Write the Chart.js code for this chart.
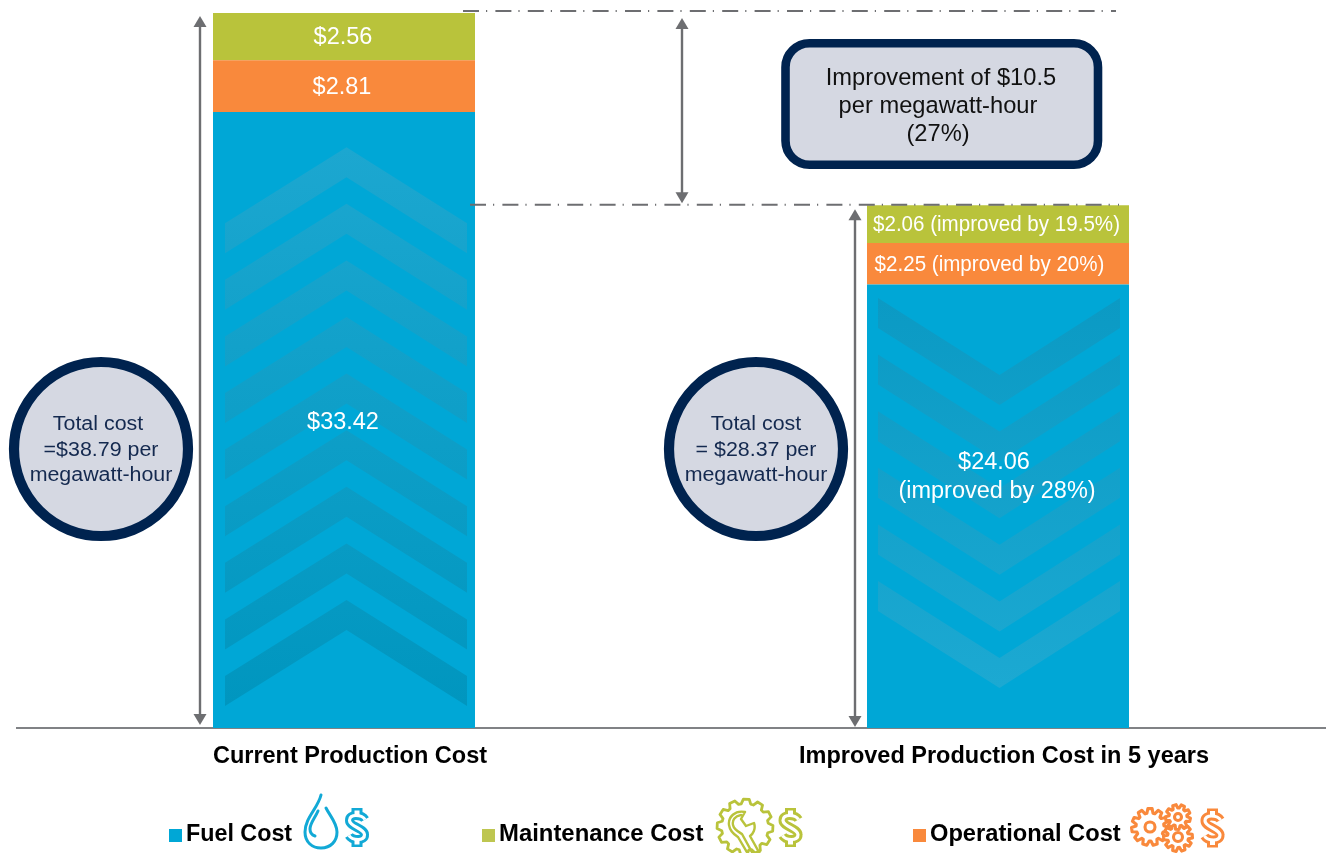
<!DOCTYPE html>
<html>
<head>
<meta charset="utf-8">
<style>html,body{margin:0;padding:0;background:#fff}canvas{display:block}</style>
<script src="https://cdn.jsdelivr.net/npm/chart.js@4"></script>
</head>
<body>
<canvas id="c" width="1330" height="853"></canvas>
<script>
const categories = ["Current Production Cost", "Improved Production Cost in 5 years"];
const fuelValues = [33.42, 24.06];
const operationalValues = [2.81, 2.25];
const maintenanceValues = [2.56, 2.06];
const totalValues = [38.79, 28.37];
const fuelLabels = [["$33.42"], ["$24.06", "(improved by 28%)"]];
const operationalLabels = [["$2.81"], ["$2.25 (improved by 20%)"]];
const maintenanceLabels = [["$2.56"], ["$2.06 (improved by 19.5%)"]];
const circleLabels = [["Total cost", "=$38.79 per", "megawatt-hour"], ["Total cost", "= $28.37 per", "megawatt-hour"]];
const boxLabel = ["Improvement of $10.5", "per megawatt-hour", "(27%)"];
const legendNames = ["Fuel Cost", "Maintenance Cost", "Operational Cost"];

const BLUE = "#00A7D6", ORANGE = "#F9893C", GREEN = "#B9C33B", GREY = "#6D6E71", NAVY = "#00234F", PALE = "#D5D8E2", INK = "#14294F";
const SANS = '"Liberation Sans", Arial, sans-serif';

function text(ctx, s, x, y, font, color, sx) {
  ctx.save();
  ctx.font = font; ctx.fillStyle = color;
  ctx.textAlign = "center"; ctx.textBaseline = "middle";
  ctx.translate(x, y); ctx.scale(sx || 1, 1);
  ctx.fillText(s, 0, 0);
  ctx.restore();
}
function chevron(ctx, x0, x1, yEdge, yApex, thick, fill) {
  const m = (x0 + x1) / 2 + 0.5;
  ctx.fillStyle = fill;
  ctx.beginPath();
  ctx.moveTo(x0, yEdge); ctx.lineTo(m, yApex); ctx.lineTo(x1, yEdge);
  ctx.lineTo(x1, yEdge + thick); ctx.lineTo(m, yApex + thick); ctx.lineTo(x0, yEdge + thick);
  ctx.closePath(); ctx.fill();
}
function dashLine(ctx, x0, x1, y) {
  ctx.save();
  ctx.strokeStyle = GREY; ctx.lineWidth = 2;
  ctx.setLineDash([16, 7, 1.2, 8.2]);
  ctx.beginPath(); ctx.moveTo(x0, y); ctx.lineTo(x1, y); ctx.stroke();
  ctx.restore();
}
function arrow(ctx, x, y0, y1) {
  ctx.save();
  ctx.strokeStyle = GREY; ctx.fillStyle = GREY; ctx.lineWidth = 2.4;
  ctx.beginPath(); ctx.moveTo(x, y0 + 8); ctx.lineTo(x, y1 - 8); ctx.stroke();
  [[y0, 1], [y1, -1]].forEach(([y, d]) => {
    ctx.beginPath(); ctx.moveTo(x, y); ctx.lineTo(x - 6.5, y + d * 11); ctx.lineTo(x + 6.5, y + d * 11); ctx.closePath(); ctx.fill();
  });
  ctx.restore();
}
function circleNote(ctx, cx, cy, lines, dx) {
  ctx.fillStyle = PALE; ctx.strokeStyle = NAVY; ctx.lineWidth = 10.2;
  ctx.beginPath(); ctx.arc(cx, cy, 87, 0, Math.PI * 2); ctx.fill(); ctx.stroke();
  const ys = [cy - 25, cy + 1, cy + 26];
  lines.forEach((l, i) => text(ctx, l, cx + dx[i], ys[i], "20px " + SANS, INK, 1.07));
}
function gear(ctx, cx, cy, rOut, rIn, hole, teeth, color, lw, rot) {
  ctx.save();
  ctx.strokeStyle = color; ctx.fillStyle = "#fff"; ctx.lineWidth = lw; ctx.lineJoin = "round";
  const st = Math.PI * 2 / teeth;
  ctx.beginPath();
  for (let i = 0; i < teeth; i++) {
    const a = (rot || 0) + i * st;
    [[-0.5, rIn], [-0.3, rOut], [0.1, rOut], [0.28, rIn]].forEach(([f, r], k) => {
      const b = a + f * st;
      const px = cx + r * Math.cos(b), py = cy + r * Math.sin(b);
      if (i === 0 && k === 0) ctx.moveTo(px, py); else ctx.lineTo(px, py);
    });
  }
  ctx.closePath(); ctx.fill(); ctx.stroke();
  if (hole) { ctx.beginPath(); ctx.arc(cx, cy, hole, 0, Math.PI * 2); ctx.stroke(); }
  ctx.restore();
}
function dollar(ctx, cx, cy, color) {
  ctx.save();
  ctx.lineCap = "butt"; ctx.lineJoin = "miter";
  const curve = () => {
    ctx.beginPath();
    ctx.moveTo(cx + 8, cy - 8);
    ctx.bezierCurveTo(cx + 5, cy - 13, cx - 8, cy - 14, cx - 7.5, cy - 7);
    ctx.bezierCurveTo(cx - 7.5, cy - 1, cx + 7.5, cy + 1, cx + 7.5, cy + 7);
    ctx.bezierCurveTo(cx + 8, cy + 14, cx - 5, cy + 13, cx - 8, cy + 8);
  };
  const stubs = () => {
    ctx.beginPath();
    ctx.moveTo(cx, cy - 13); ctx.lineTo(cx, cy - 19.5);
    ctx.moveTo(cx, cy + 13); ctx.lineTo(cx, cy + 19.5);
  };
  ctx.strokeStyle = color;
  ctx.lineWidth = 9; curve(); ctx.stroke();
  ctx.lineWidth = 11; stubs(); ctx.stroke();
  ctx.strokeStyle = "#fff";
  ctx.lineWidth = 3.2; curve(); ctx.stroke();
  ctx.lineWidth = 5;
  ctx.beginPath();
  ctx.moveTo(cx, cy - 12.5); ctx.lineTo(cx, cy - 17);
  ctx.moveTo(cx, cy + 12.5); ctx.lineTo(cx, cy + 17);
  ctx.stroke();
  ctx.restore();
}
function dropIcon(ctx, color) {
  ctx.save();
  ctx.strokeStyle = color; ctx.lineWidth = 3; ctx.lineCap = "round";
  ctx.beginPath();
  ctx.moveTo(321, 795);
  ctx.bezierCurveTo(318, 808, 305, 818, 305, 832);
  ctx.bezierCurveTo(305, 842, 312, 848, 321, 848);
  ctx.bezierCurveTo(331, 848, 337, 841, 337, 832);
  ctx.bezierCurveTo(337, 823, 330, 816, 326, 808);
  ctx.stroke();
  ctx.beginPath();
  ctx.moveTo(318, 811);
  ctx.bezierCurveTo(315, 818, 310, 823, 310, 829);
  ctx.bezierCurveTo(310, 832, 312, 835, 315, 836);
  ctx.stroke();
  ctx.restore();
}
function wrenchIcon(ctx, color) {
  gear(ctx, 745, 827, 28, 23.5, 0, 12, color, 2.8, 0.1);
  ctx.save();
  ctx.strokeStyle = color; ctx.lineWidth = 2.4; ctx.lineJoin = "round"; ctx.lineCap = "round";
  ctx.beginPath();
  ctx.moveTo(745, 812);
  ctx.lineTo(741, 819); ctx.lineTo(746, 826); ctx.lineTo(754, 823);
  ctx.bezierCurveTo(756, 829, 753, 834, 750, 836);
  ctx.lineTo(760, 854);
  ctx.moveTo(745, 812);
  ctx.bezierCurveTo(735, 810, 728, 817, 729, 825);
  ctx.bezierCurveTo(730, 832, 735, 835, 738, 837);
  ctx.lineTo(748, 854);
  ctx.stroke();
  ctx.beginPath();
  ctx.moveTo(741, 815);
  ctx.bezierCurveTo(735, 816, 732, 820, 733, 825);
  ctx.bezierCurveTo(734, 830, 739, 832, 742, 834);
  ctx.lineTo(753, 854);
  ctx.stroke();
  ctx.restore();
}

const overlays = {
  id: "overlays",
  afterDatasetsDraw(chart) {
    const ctx = chart.ctx, y = chart.scales.y;
    const g1 = ctx.createLinearGradient(0, 148, 0, 706);
    g1.addColorStop(0, "#1CA7D0"); g1.addColorStop(1, "#0096BF");
    for (let a = 600; a > 140; a -= 56.6) chevron(ctx, 225, 467, a + 76, a, 30, g1);
    const g2 = ctx.createLinearGradient(0, 298, 0, 688);
    g2.addColorStop(0, "#0B9AC4"); g2.addColorStop(1, "#1CA9D2");
    for (let s = 298, i = 0; i < 6; i++, s += 56.6) chevron(ctx, 878, 1120, s, s + 77, 30, g2);

    const yTop = y.getPixelForValue(totalValues[0]), yLow = y.getPixelForValue(totalValues[1]);
    dashLine(ctx, 463, 1116, yTop - 2);
    dashLine(ctx, 470, 1119, yLow - 0.5);
    arrow(ctx, 200, yTop + 3, y.bottom - 3);
    arrow(ctx, 855, yLow + 4, y.bottom - 1);
    arrow(ctx, 682, yTop + 5, yLow - 2);

    ctx.fillStyle = PALE; ctx.strokeStyle = NAVY; ctx.lineWidth = 8.6;
    ctx.beginPath(); ctx.roundRect(785.5, 43.3, 312.5, 121.5, 24); ctx.fill(); ctx.stroke();
    boxLabel.forEach((l, i) => text(ctx, l, 941 - (i ? 3 : 0), 78 + i * 28, "23.7px " + SANS, "#111", 1));

    circleNote(ctx, 101, 449, circleLabels[0], [-3, 0, 0]);
    circleNote(ctx, 756, 449, circleLabels[1], [0, 0, 0]);

    const bars = [chart.getDatasetMeta(0), chart.getDatasetMeta(1), chart.getDatasetMeta(2)];
    const mid = (el) => (el.y + el.base) / 2;
    text(ctx, fuelLabels[0][0], bars[0].data[0].x - 1, mid(bars[0].data[0]) + 2.5, "23.5px " + SANS, "#fff");
    text(ctx, operationalLabels[0][0], bars[1].data[0].x - 2, mid(bars[1].data[0]) + 1, "23.5px " + SANS, "#fff");
    text(ctx, maintenanceLabels[0][0], bars[2].data[0].x - 1, mid(bars[2].data[0]) + 1, "23.5px " + SANS, "#fff");
    const f = mid(bars[0].data[1]);
    text(ctx, fuelLabels[1][0], bars[0].data[1].x - 4, f - 44, "23.5px " + SANS, "#fff");
    text(ctx, fuelLabels[1][1], bars[0].data[1].x - 1, f - 15, "23.5px " + SANS, "#fff");
    text(ctx, operationalLabels[1][0], bars[1].data[1].x - 8.5, mid(bars[1].data[1]) + 1, "22px " + SANS, "#fff", 0.935);
    text(ctx, maintenanceLabels[1][0], bars[2].data[1].x - 1.5, mid(bars[2].data[1]) + 1, "22px " + SANS, "#fff", 0.935);

    const legendY = 835, legendFont = "bold 23.3px " + SANS;
    [[169, 186, BLUE, 0, 1], [482, 499, "#BEC650", 1, 1.025], [913, 930, ORANGE, 2, 1.016]].forEach(([sq, tx, col, i, sx]) => {
      ctx.fillStyle = col; ctx.fillRect(sq, legendY - 6, 13, 13);
      ctx.save();
      ctx.font = legendFont; ctx.fillStyle = "#000"; ctx.textAlign = "left"; ctx.textBaseline = "middle";
      ctx.translate(tx, legendY); ctx.scale(sx, 1);
      ctx.fillText(legendNames[i], 0, 0);
      ctx.restore();
    });
    dropIcon(ctx, "#12A9D6");
    dollar(ctx, 357, 827.5, "#12A9D6");
    wrenchIcon(ctx, GREEN);
    dollar(ctx, 790.5, 827.5, GREEN);
    gear(ctx, 1150, 827, 18.5, 14, 5, 11, ORANGE, 3.1, 0.2);
    gear(ctx, 1178, 837, 14.5, 10.5, 4.5, 10, ORANGE, 3.1, 0);
    gear(ctx, 1178, 817, 12.5, 9, 3.5, 9, ORANGE, 3.1, 0.3);
    dollar(ctx, 1212.5, 828, ORANGE);
  }
};

new Chart(document.getElementById("c"), {
  type: "bar",
  data: {
    labels: categories,
    datasets: [
      { label: "Fuel Cost", data: fuelValues, backgroundColor: BLUE },
      { label: "Operational Cost", data: operationalValues, backgroundColor: ORANGE },
      { label: "Maintenance Cost", data: maintenanceValues, backgroundColor: GREEN }
    ]
  },
  options: {
    responsive: false,
    animation: false,
    layout: { padding: { left: 17, right: 5, top: 0, bottom: 0 } },
    datasets: { bar: { categoryPercentage: 1, barPercentage: 0.4006 } },
    plugins: { legend: { display: false }, tooltip: { enabled: false } },
    scales: {
      x: {
        stacked: true,
        afterFit(s) { s.height = 125; },
        grid: { display: false, drawTicks: false },
        border: { display: true, color: "#808285", width: 2 },
        ticks: { color: "#000", padding: 14, labelOffset: 6, maxRotation: 0, font: { family: SANS, size: 23.5, weight: "bold" } }
      },
      y: { stacked: true, display: false, min: 0, max: 39.5 }
    }
  },
  plugins: [overlays]
});
</script>
</body>
</html>
